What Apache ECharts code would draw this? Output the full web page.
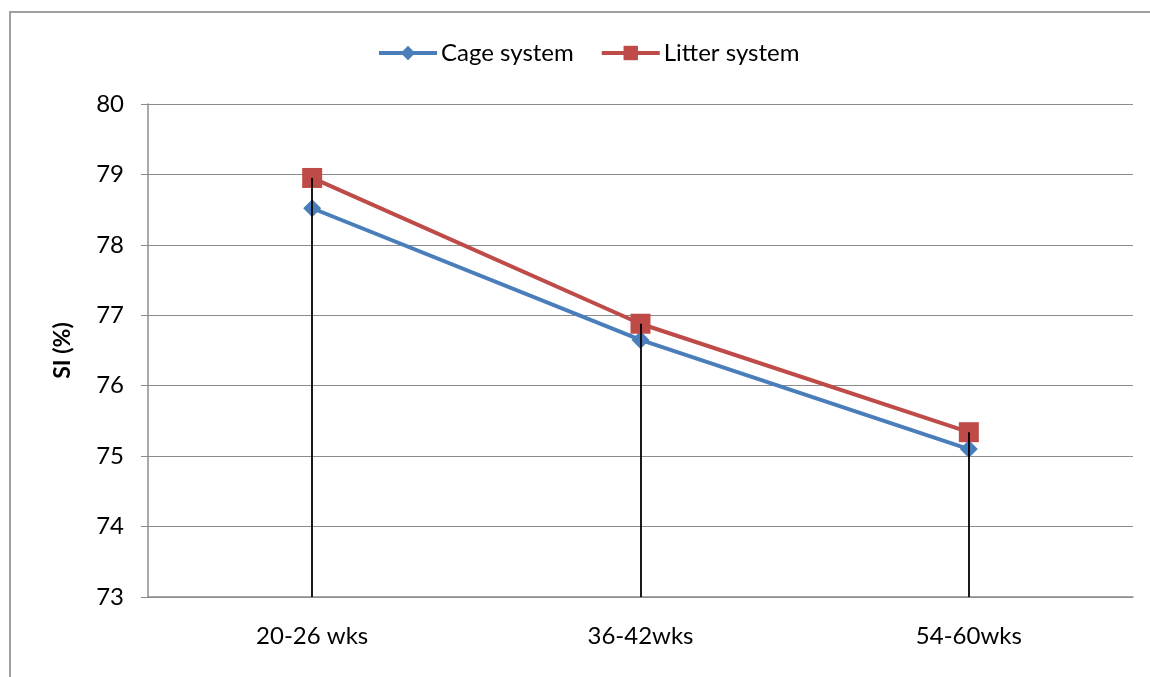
<!DOCTYPE html>
<html><head><meta charset="utf-8">
<script src="https://cdn.jsdelivr.net/npm/echarts@6/dist/echarts.min.js"></script>
<style>html,body{margin:0;padding:0;background:#fff}#c{width:1150px;height:677px;position:relative}
#frame{position:absolute;left:9px;top:11px;width:1200px;height:700px;border:2px solid #a0a0a0;box-sizing:border-box;pointer-events:none}</style>
</head><body><div id="c"></div><div id="frame"></div>
<script>
const categories = ['20-26 wks', '36-42wks', '54-60wks'];
const cage = [78.52, 76.65, 75.10];
const litter = [78.95, 76.88, 75.34];
const yTicks = [73, 74, 75, 76, 77, 78, 79, 80];

const chart = echarts.init(document.getElementById('c'));
const font = 'Lato, "Open Sans", sans-serif';
const drops = categories.map((c, i) => [
  { coord: [i, yTicks[0]] },
  { coord: [i, Math.max(cage[i], litter[i])] }
]);
chart.setOption({
  animation: false,
  textStyle: { fontFamily: font },
  legend: {
    top: 36, left: 372, itemGap: 26, itemWidth: 58, itemHeight: 18,
    textStyle: { fontSize: 24, color: '#000', fontFamily: font, padding: [0, 0, 0, -1] },
    lineStyle: { width: 4 },
    data: ['Cage system', 'Litter system']
  },
  grid: { left: 148, right: 17, top: 104, bottom: 80 },
  xAxis: {
    type: 'category', data: categories, boundaryGap: true,
    axisLine: { lineStyle: { color: '#8c8c8c', width: 1.5 } },
    axisTick: { show: false },
    axisLabel: { fontSize: 24, color: '#000', margin: 27, fontFamily: font }
  },
  yAxis: {
    type: 'value', min: 73, max: 80, interval: 1,
    name: 'SI (%)', nameLocation: 'middle', nameGap: 74, nameRotate: 90,
    nameTextStyle: { fontSize: 23, fontWeight: 'bold', color: '#000', fontFamily: font },
    axisLine: { show: true, lineStyle: { color: '#8c8c8c', width: 1.5 } },
    axisTick: { show: true, length: 7, lineStyle: { color: '#8c8c8c' } },
    axisLabel: { fontSize: 24, color: '#000', margin: 24, fontFamily: font },
    splitLine: { lineStyle: { color: '#8c8c8c', width: 1.2 } }
  },
  series: [
    {
      name: 'Cage system', type: 'line', data: cage,
      symbol: 'diamond', symbolSize: 18,
      lineStyle: { color: '#4a7ebb', width: 4 },
      itemStyle: { color: '#4a7ebb' }
    },
    {
      name: 'Litter system', type: 'line', data: litter,
      symbol: 'rect', symbolSize: 20,
      lineStyle: { color: '#be4b48', width: 4 },
      itemStyle: { color: '#be4b48' }
    },
    {
      name: 'drop', type: 'line', data: [], z: 10,
      markLine: {
        silent: true, symbol: ['none', 'none'],
        label: { show: false },
        lineStyle: { color: '#000', width: 1.8, type: 'solid' },
        data: drops
      }
    }
  ]
});
</script></body></html>
